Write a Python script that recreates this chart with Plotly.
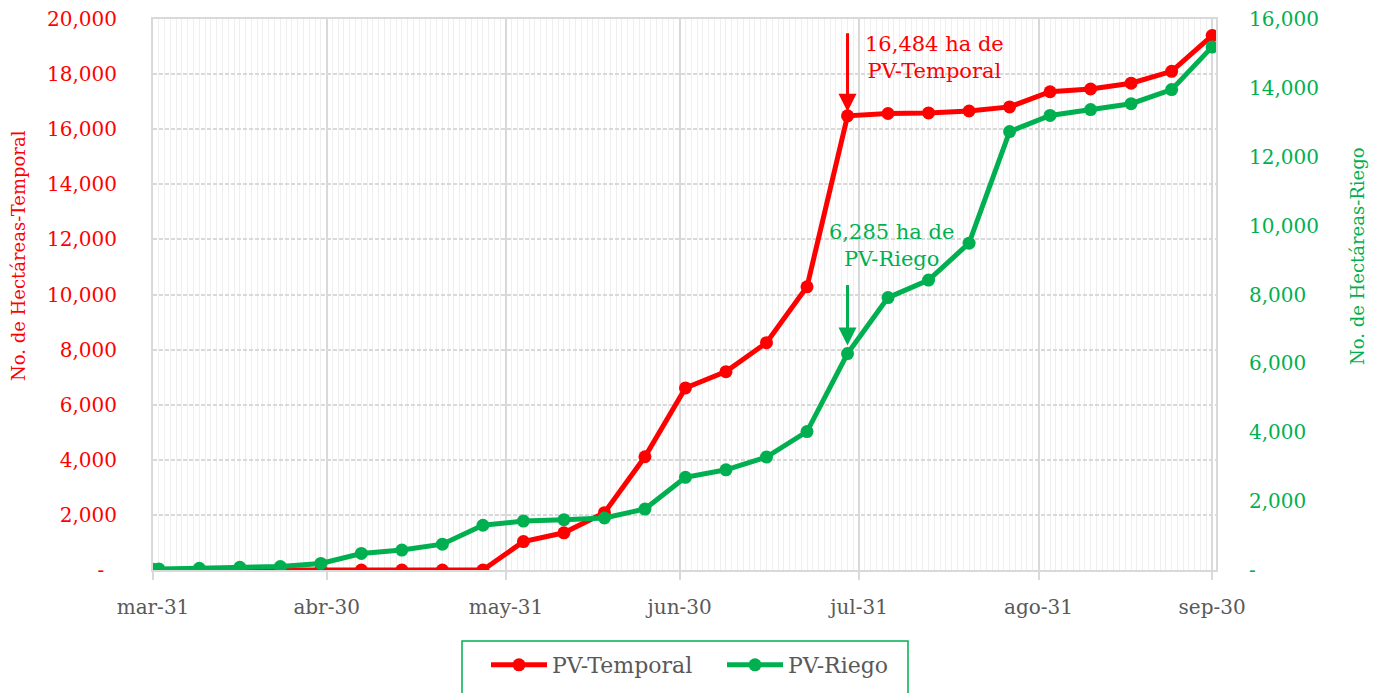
import plotly.graph_objects as go

# ---------------- data ----------------
dates = ["2020-03-31", "2020-04-01", "2020-04-08", "2020-04-15", "2020-04-22", "2020-04-29",
         "2020-05-06", "2020-05-13", "2020-05-20", "2020-05-27", "2020-06-03", "2020-06-10",
         "2020-06-17", "2020-06-24", "2020-07-01", "2020-07-08", "2020-07-15", "2020-07-22",
         "2020-07-29", "2020-08-05", "2020-08-12", "2020-08-19", "2020-08-26", "2020-09-02",
         "2020-09-09", "2020-09-16", "2020-09-23", "2020-09-30"]

pv_temporal = [0, 0, 0, 0, 0, 0, 0, 0, 0, 0, 1030, 1350, 2080, 4110, 6610, 7200, 8250, 10280,
               16484, 16570, 16590, 16660, 16810, 17360, 17460, 17670, 18100, 19400]

pv_riego = [20, 30, 50, 80, 100, 190, 480, 580, 750, 1300, 1420, 1460, 1510, 1770, 2690, 2910,
            3280, 4020, 6285, 7910, 8420, 9490, 12730, 13200, 13370, 13540, 13950, 15190]

x_tick_vals = ["2020-03-31", "2020-04-30", "2020-05-31", "2020-06-30", "2020-07-31",
               "2020-08-31", "2020-09-30"]
x_tick_text = ["mar-31", "abr-30", "may-31", "jun-30", "jul-31", "ago-31", "sep-30"]

y1_tick_vals = [0, 2000, 4000, 6000, 8000, 10000, 12000, 14000, 16000, 18000, 20000]
y1_tick_text = ["-\u00a0\u00a0", "2,000", "4,000", "6,000", "8,000", "10,000", "12,000",
                "14,000", "16,000", "18,000", "20,000"]
y2_tick_vals = [0, 2000, 4000, 6000, 8000, 10000, 12000, 14000, 16000]
y2_tick_text = ["-", "2,000", "4,000", "6,000", "8,000", "10,000", "12,000", "14,000",
                "16,000"]

RED = "#ff0000"
GREEN = "#00b050"
GREY_TXT = "#595959"
FONT = "DejaVu Serif"

# ---------------- figure ----------------
W, H = 1378, 693
L, R, T, B = 153, 162, 19, 123
PW, PH = W - L - R, H - T - B


def px_x(px):
    return (px - L) / PW


def px_y(py):
    return (H - B - py) / PH


fig = go.Figure()
fig.add_trace(go.Scatter(x=dates, y=pv_temporal, name="PV-Temporal", mode="lines+markers",
                         line=dict(color=RED, width=5), marker=dict(size=13, color=RED),
                         yaxis="y"))
fig.add_trace(go.Scatter(x=dates, y=pv_riego, name="PV-Riego", mode="lines+markers",
                         line=dict(color=GREEN, width=5), marker=dict(size=13, color=GREEN),
                         yaxis="y2"))

fig.update_layout(
    width=W, height=H,
    margin=dict(l=L, r=R, t=T, b=B, autoexpand=False),
    paper_bgcolor="white", plot_bgcolor="white",
    font=dict(family=FONT, size=20, color=GREY_TXT),
    showlegend=True,
    legend=dict(orientation="h", x=px_x(722), xanchor="center", y=px_y(665), yanchor="middle",
                font=dict(size=22, color=GREY_TXT), bgcolor="rgba(0,0,0,0)",
                borderwidth=0, itemwidth=56, entrywidth=165, tracegroupgap=0),
    xaxis=dict(
        type="date", automargin=False,
        range=["2020-03-31", "2020-09-30 16:00"],
        tickmode="array", tickvals=x_tick_vals, ticktext=x_tick_text,
        tickfont=dict(size=20, color=GREY_TXT),
        ticks="outside", ticklen=8, tickcolor="#d9d9d9", tickwidth=1.5,
        ticklabelstandoff=10,
        showgrid=True, gridcolor="#d9d9d9", gridwidth=1.5,
        minor=dict(dtick=86400000, tick0="2020-03-31", showgrid=True,
                   gridcolor="#efefef", gridwidth=1, ticks=""),
        showline=True, linecolor="#d9d9d9", linewidth=2, mirror=True,
        zeroline=False,
    ),
    yaxis=dict(
        automargin=False,
        range=[0, 20000], tickmode="array", tickvals=y1_tick_vals, ticktext=y1_tick_text,
        tickfont=dict(size=20, color=RED), ticklabelstandoff=30,
        showgrid=True, gridcolor="#d9d9d9", gridwidth=1.5, griddash="4px,2px",
        showline=True, linecolor="#d9d9d9", linewidth=2, mirror=True,
        zeroline=False,
    ),
    yaxis2=dict(
        automargin=False,
        range=[0, 16000], overlaying="y", side="right", tickmode="array",
        tickvals=y2_tick_vals, ticktext=y2_tick_text,
        tickfont=dict(size=20, color=GREEN), ticklabelstandoff=32,
        showgrid=False, zeroline=False, showline=False,
    ),
)

# axis titles
fig.add_annotation(text="No. de Hectáreas-Temporal", xref="paper", yref="paper",
                   x=px_x(18), y=px_y(256), showarrow=False, textangle=-90,
                   font=dict(size=18, color=RED), xanchor="center", yanchor="middle")
fig.add_annotation(text="No. de Hectáreas-Riego", xref="paper", yref="paper",
                   x=px_x(1357), y=px_y(256), showarrow=False, textangle=-90,
                   font=dict(size=18, color=GREEN), xanchor="center", yanchor="middle")

# callouts
fig.add_annotation(x=dates[18], y=pv_temporal[18], xref="x", yref="y", text="",
                   showarrow=True, ax=0, ay=-84, axref="pixel", ayref="pixel",
                   arrowhead=2, arrowsize=1.2, arrowwidth=3, arrowcolor=RED, standoff=4)
fig.add_annotation(text="16,484 ha de<br>PV-Temporal", xref="paper", yref="paper",
                   x=px_x(934), y=px_y(57), showarrow=False,
                   font=dict(size=21, color=RED), xanchor="center", yanchor="middle")
fig.add_annotation(x=dates[18], y=pv_riego[18], xref="x", yref="y2", text="",
                   showarrow=True, ax=0, ay=-70, axref="pixel", ayref="pixel",
                   arrowhead=2, arrowsize=1.2, arrowwidth=3, arrowcolor=GREEN, standoff=8)
fig.add_annotation(text="6,285 ha de<br>PV-Riego", xref="paper", yref="paper",
                   x=px_x(891), y=px_y(245), showarrow=False,
                   font=dict(size=21, color=GREEN), xanchor="center", yanchor="middle")

# legend frame
fig.add_shape(type="rect", xref="paper", yref="paper",
              x0=px_x(462), x1=px_x(908), y0=px_y(702), y1=px_y(641),
              line=dict(color=GREEN, width=1.5), fillcolor="rgba(0,0,0,0)")

fig.write_html("out.html",
               config={"displayModeBar": False},
               post_script="document.body.style.margin='0';"
                           "document.body.style.overflow='hidden';")
